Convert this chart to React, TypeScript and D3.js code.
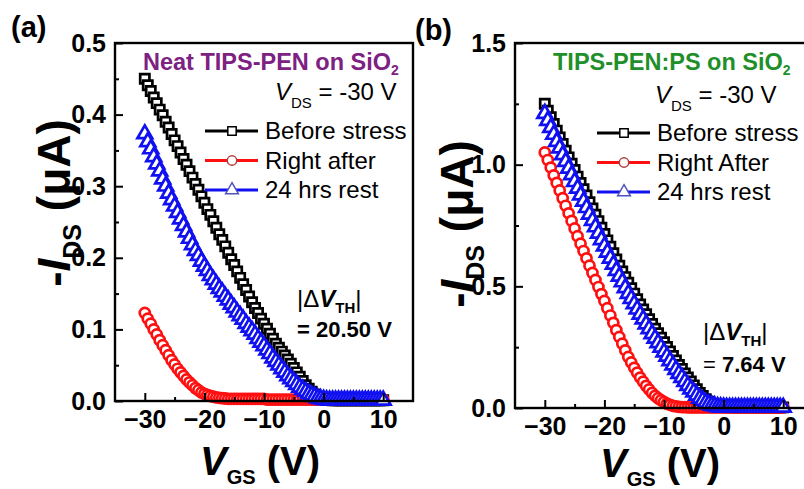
import React, { useEffect, useRef } from "react";
import * as d3 from "d3";

// gate voltage sweep (V), 0.5 V steps
const vgs = [
  -30, -29.5, -29, -28.5, -28, -27.5, -27, -26.5, -26, -25.5, -25, -24.5, -24, -23.5, -23, -22.5, -22, -21.5, -21, -20.5,
  -20, -19.5, -19, -18.5, -18, -17.5, -17, -16.5, -16, -15.5, -15, -14.5, -14, -13.5, -13, -12.5, -12, -11.5, -11, -10.5,
  -10, -9.5, -9, -8.5, -8, -7.5, -7, -6.5, -6, -5.5, -5, -4.5, -4, -3.5, -3, -2.5, -2, -1.5, -1, -0.5,
  0, 0.5, 1, 1.5, 2, 2.5, 3, 3.5, 4, 4.5, 5, 5.5, 6, 6.5, 7, 7.5, 8, 8.5, 9, 9.5, 10,
];

// (a) Neat TIPS-PEN on SiO2, -I_DS in uA
const neatBefore = [
  0.45, 0.441, 0.433, 0.424, 0.416, 0.407, 0.399, 0.39, 0.382, 0.373, 0.364, 0.356, 0.347, 0.338, 0.33, 0.321, 0.312, 0.303, 0.295, 0.286,
  0.277, 0.268, 0.26, 0.251, 0.242, 0.233, 0.225, 0.216, 0.207, 0.198, 0.19, 0.181, 0.172, 0.163, 0.155, 0.146, 0.138, 0.13, 0.123, 0.115,
  0.108, 0.101, 0.094, 0.087, 0.08, 0.0745, 0.069, 0.0635, 0.058, 0.052, 0.046, 0.04, 0.034, 0.028, 0.022, 0.017, 0.013, 0.009, 0.006, 0.004,
  0.003, 0.002, 0.0015, 0.001, 0.001, 0.001, 0.001, 0.001, 0.001, 0.001, 0.001, 0.001, 0.001, 0.001, 0.001, 0.001, 0.001, 0.001, 0.001, 0.001, 0.001,
];
const neatAfter = [
  0.123, 0.115, 0.108, 0.1, 0.093, 0.085, 0.078, 0.071, 0.064, 0.057, 0.051, 0.045, 0.04, 0.035, 0.03, 0.026, 0.022, 0.018, 0.015, 0.012,
  0.01, 0.0085, 0.007, 0.006, 0.005, 0.0045, 0.004, 0.0035, 0.003, 0.003, 0.003, 0.003, 0.003, 0.003, 0.003, 0.003, 0.003, 0.003, 0.003, 0.003,
  0.003, 0.002, 0.002, 0.002, 0.002, 0.002, 0.002, 0.002, 0.002, 0.002, 0.002, 0.002, 0.002, 0.002, 0.002, 0.002, 0.002, 0.002, 0.002, 0.002,
  0.002, 0.002, 0.002, 0.002, 0.002, 0.002, 0.002, 0.002, 0.002, 0.002, 0.002, 0.002, 0.002, 0.002, 0.002, 0.002, 0.002, 0.002, 0.002, 0.002, 0.002,
];
const neatRest = [
  0.373, 0.362, 0.352, 0.341, 0.331, 0.321, 0.31, 0.3, 0.29, 0.281, 0.272, 0.263, 0.254, 0.245, 0.236, 0.227, 0.218, 0.21, 0.203, 0.195,
  0.188, 0.182, 0.175, 0.169, 0.163, 0.157, 0.152, 0.146, 0.141, 0.135, 0.13, 0.124, 0.119, 0.114, 0.108, 0.103, 0.098, 0.093, 0.087, 0.082,
  0.077, 0.071, 0.066, 0.06, 0.055, 0.05, 0.045, 0.04, 0.035, 0.031, 0.027, 0.023, 0.019, 0.016, 0.013, 0.01, 0.008, 0.006, 0.004, 0.003,
  0.002, 0.0015, 0.001, 0.001, 0.001, 0.001, 0.001, 0.001, 0.001, 0.001, 0.001, 0.001, 0.001, 0.001, 0.001, 0.001, 0.001, 0.001, 0.001, 0.001, 0.001,
];

// (b) TIPS-PEN:PS on SiO2
const blendBefore = [
  1.25, 1.222, 1.195, 1.167, 1.14, 1.112, 1.085, 1.057, 1.03, 1.004, 0.978, 0.951, 0.925, 0.899, 0.873, 0.846, 0.82, 0.794, 0.768, 0.741,
  0.715, 0.689, 0.663, 0.636, 0.61, 0.585, 0.561, 0.538, 0.515, 0.492, 0.47, 0.447, 0.425, 0.405, 0.385, 0.365, 0.345, 0.326, 0.307, 0.289,
  0.27, 0.251, 0.232, 0.214, 0.195, 0.177, 0.16, 0.142, 0.125, 0.109, 0.093, 0.077, 0.062, 0.049, 0.036, 0.026, 0.017, 0.012, 0.008, 0.006,
  0.004, 0.0035, 0.003, 0.0025, 0.0025, 0.0025, 0.0025, 0.0025, 0.0025, 0.0025, 0.0025, 0.0025, 0.0025, 0.0025, 0.0025, 0.0025, 0.0025, 0.0025, 0.0025, 0.0025, 0.0025,
];
const blendAfter = [
  1.05, 1.019, 0.988, 0.956, 0.925, 0.894, 0.862, 0.831, 0.8, 0.769, 0.738, 0.706, 0.675, 0.645, 0.615, 0.585, 0.555, 0.526, 0.497, 0.468,
  0.44, 0.41, 0.38, 0.35, 0.32, 0.292, 0.264, 0.237, 0.21, 0.187, 0.165, 0.145, 0.125, 0.108, 0.091, 0.076, 0.062, 0.05, 0.04, 0.032,
  0.025, 0.018, 0.013, 0.009, 0.007, 0.005, 0.004, 0.0035, 0.003, 0.0025, 0.0025, 0.0025, 0.0025, 0.0025, 0.0025, 0.0025, 0.0025, 0.0025, 0.0025, 0.0025,
  0.0025, 0.0025, 0.0025, 0.0025, 0.0025, 0.0025, 0.0025, 0.0025, 0.0025, 0.0025, 0.0025, 0.0025, 0.0025, 0.0025, 0.0025, 0.0025, 0.0025, 0.0025, 0.0025, 0.0025, 0.0025,
];
const blendRest = [
  1.21, 1.181, 1.152, 1.124, 1.095, 1.068, 1.04, 1.013, 0.985, 0.958, 0.93, 0.903, 0.875, 0.849, 0.823, 0.796, 0.77, 0.744, 0.718, 0.691,
  0.665, 0.64, 0.615, 0.59, 0.565, 0.541, 0.518, 0.494, 0.47, 0.449, 0.428, 0.406, 0.385, 0.365, 0.345, 0.325, 0.305, 0.286, 0.268, 0.249,
  0.23, 0.212, 0.194, 0.176, 0.158, 0.141, 0.125, 0.108, 0.092, 0.078, 0.065, 0.052, 0.04, 0.031, 0.022, 0.016, 0.011, 0.008, 0.005, 0.004,
  0.003, 0.0025, 0.0025, 0.0025, 0.0025, 0.0025, 0.0025, 0.0025, 0.0025, 0.0025, 0.0025, 0.0025, 0.0025, 0.0025, 0.0025, 0.0025, 0.0025, 0.0025, 0.0025, 0.0025, 0.0025,
];

const xTicks = [-30, -20, -10, 0, 10];
const xMinor = [-25, -15, -5, 5];
const yTicksA = [0, 0.1, 0.2, 0.3, 0.4, 0.5];
const yMinorA = [0.05, 0.15, 0.25, 0.35, 0.45];
const yTicksB = [0, 0.5, 1.0, 1.5];
const yMinorB = [0.25, 0.75, 1.25];

const FONT = "'Liberation Sans', Arial, sans-serif";
const BLACK = "#000000";
const RED = "#ff1010";
const BLUE = "#1010f0";

type Panel = {
  left: number;
  bottom: number;
  yMax: number;
  yTicks: number[];
  yMinor: number[];
  before: number[];
  after: number[];
  rest: number[];
};

const drawPanel = (svg: any, p: Panel) => {
  const top = 43;
  const x = d3.scaleLinear().domain([-35, 15]).range([p.left, p.left + 298]);
  const y = d3.scaleLinear().domain([0, p.yMax]).range([p.bottom, top]);
  const g = svg.append("g");

  const series = [
    { vals: p.before, color: BLACK, shape: d3.symbolSquare, size: 85 },
    { vals: p.after, color: RED, shape: d3.symbolCircle, size: 80 },
    { vals: p.rest, color: BLUE, shape: d3.symbolTriangle, size: 95 },
  ];

  const line = d3
    .line<number>()
    .x((d, i) => x(vgs[i]))
    .y((d) => y(d));

  series.forEach((s) => {
    g.append("path")
      .datum(s.vals)
      .attr("fill", "none")
      .attr("stroke", s.color)
      .attr("stroke-width", 2)
      .attr("d", line);
    g.selectAll(null)
      .data(s.vals)
      .enter()
      .append("path")
      .attr("d", d3.symbol().type(s.shape).size(s.size)())
      .attr("transform", (d: number, i: number) => `translate(${x(vgs[i])},${y(d)})`)
      .attr("fill", "#fff")
      .attr("stroke", s.color)
      .attr("stroke-width", 2.7);
  });

  // frame
  g.append("rect")
    .attr("x", x(-35))
    .attr("y", top)
    .attr("width", x(15) - x(-35))
    .attr("height", p.bottom - top)
    .attr("fill", "none")
    .attr("stroke", "#000")
    .attr("stroke-width", 2.4);

  const styleAxis = (a: any) => {
    a.select(".domain").remove();
    a.selectAll("line").attr("stroke-width", 2);
    a.selectAll("text")
      .attr("font-family", FONT)
      .attr("font-size", 25)
      .attr("font-weight", "bold")
      .attr("fill", "#000");
  };

  g.append("g")
    .attr("transform", `translate(0,${p.bottom})`)
    .call(d3.axisBottom(x).tickValues(xTicks).tickSize(-8).tickPadding(9).tickFormat(d3.format("d")))
    .call(styleAxis);
  g.append("g")
    .attr("transform", `translate(0,${p.bottom})`)
    .call(d3.axisBottom(x).tickValues(xMinor).tickSize(-4).tickFormat(() => ""))
    .call(styleAxis);
  g.append("g")
    .attr("transform", `translate(${p.left},0)`)
    .call(d3.axisLeft(y).tickValues(p.yTicks).tickSize(-8).tickPadding(9).tickFormat(d3.format(".1f")))
    .call(styleAxis);
  g.append("g")
    .attr("transform", `translate(${p.left},0)`)
    .call(d3.axisLeft(y).tickValues(p.yMinor).tickSize(-4).tickFormat(() => ""))
    .call(styleAxis);
};

const legendA = ["Before stress", "Right after", "24 hrs rest"];
const legendB = ["Before stress", "Right After", "24 hrs rest"];

const drawLegend = (svg: any, x0: number, y0: number, labels: string[]) => {
  const shapes = [d3.symbolSquare, d3.symbolCircle, d3.symbolTriangle];
  const colors = [BLACK, RED, BLUE];
  const strokes = ["#000", "#b04040", "#5050c0"];
  labels.forEach((lab, i) => {
    const yy = y0 + i * 29.5;
    svg.append("line")
      .attr("x1", x0).attr("x2", x0 + 53)
      .attr("y1", yy).attr("y2", yy)
      .attr("stroke", colors[i]).attr("stroke-width", 3);
    svg.append("path")
      .attr("d", d3.symbol().type(shapes[i]).size(70)())
      .attr("transform", `translate(${x0 + 27},${yy})`)
      .attr("fill", "#fff")
      .attr("stroke", strokes[i])
      .attr("stroke-width", 1.5);
    svg.append("text")
      .attr("x", x0 + 60)
      .attr("y", yy + 8)
      .attr("font-family", FONT)
      .attr("font-size", 24)
      .text(lab);
  });
};

const App = () => {
  const svgRef = useRef<SVGSVGElement | null>(null);

  useEffect(() => {
    if (!svgRef.current) return;
    const svg = d3.select(svgRef.current);
    svg.selectAll("*").remove();

    drawPanel(svg, {
      left: 115, bottom: 401, yMax: 0.5, yTicks: yTicksA, yMinor: yMinorA,
      before: neatBefore, after: neatAfter, rest: neatRest,
    });
    drawPanel(svg, {
      left: 515, bottom: 408, yMax: 1.5, yTicks: yTicksB, yMinor: yMinorB,
      before: blendBefore, after: blendAfter, rest: blendRest,
    });

    const txt = (x: number, y: number, size: number, weight = "normal") =>
      svg.append("text")
        .attr("x", x).attr("y", y)
        .attr("font-family", FONT)
        .attr("font-size", size)
        .attr("font-weight", weight);

    // panel letters
    txt(11, 37, 29, "bold").text("(a)");
    txt(415, 40, 29, "bold").text("(b)");

    // sample titles
    const t1 = txt(143, 70, 23.5, "bold").attr("fill", "#7d2182");
    t1.append("tspan").text("Neat TIPS-PEN on SiO");
    t1.append("tspan").attr("font-size", 14).attr("dy", 5).text("2");
    const t2 = txt(553, 70, 23.5, "bold").attr("fill", "#1f8f2a");
    t2.append("tspan").text("TIPS-PEN:PS on SiO");
    t2.append("tspan").attr("font-size", 14).attr("dy", 5).text("2");

    // V_DS
    [[275, 100], [655, 103]].forEach(([x, y]) => {
      const t = txt(x, y, 24);
      t.append("tspan").attr("font-style", "italic").text("V");
      t.append("tspan").attr("font-size", 15).attr("dy", 8).text("DS");
      t.append("tspan").attr("dy", -8).text(" = -30 V");
    });

    drawLegend(svg, 205, 131, legendA);
    drawLegend(svg, 597, 133, legendB);

    // threshold shift
    const dv = (x: number, y: number) => {
      const t = txt(x, y, 24);
      t.append("tspan").text("|\u0394");
      t.append("tspan").attr("font-weight", "bold").attr("font-style", "italic").text("V");
      t.append("tspan").attr("font-weight", "bold").attr("font-size", 15).attr("dy", 6).text("TH");
      t.append("tspan").attr("dy", -6).text("|");
    };
    dv(297, 307);
    txt(297, 337, 22, "bold").text("= 20.50 V");
    dv(703, 340);
    const t3 = txt(703, 372, 22);
    t3.append("tspan").text("= ");
    t3.append("tspan").attr("font-weight", "bold").text("7.64 V");

    // axis titles
    [[200, 475], [600, 477]].forEach(([x, y]) => {
      const t = txt(x, y, 40, "bold");
      t.append("tspan").attr("font-style", "italic").text("V");
      t.append("tspan").attr("font-size", 20).attr("dy", 9).text("GS");
      t.append("tspan").attr("dy", -9).text(" (V)");
    });
    [[70, 203], [473, 224]].forEach(([x, y]) => {
      const t = svg.append("text")
        .attr("transform", `translate(${x},${y}) rotate(-90)`)
        .attr("text-anchor", "middle")
        .attr("font-family", FONT)
        .attr("font-size", 46)
        .attr("font-weight", "bold");
      t.append("tspan").text("-");
      t.append("tspan").attr("font-style", "italic").text("I");
      t.append("tspan").attr("font-size", 25).attr("dy", 11).text("DS");
      t.append("tspan").attr("dy", -11).text(" (\u03bcA)");
    });
  }, []);

  return (
    <svg
      ref={svgRef}
      width={804}
      height={489}
      style={{ position: "absolute", left: 0, top: 0, background: "#fff" }}
    />
  );
};

export default App;
